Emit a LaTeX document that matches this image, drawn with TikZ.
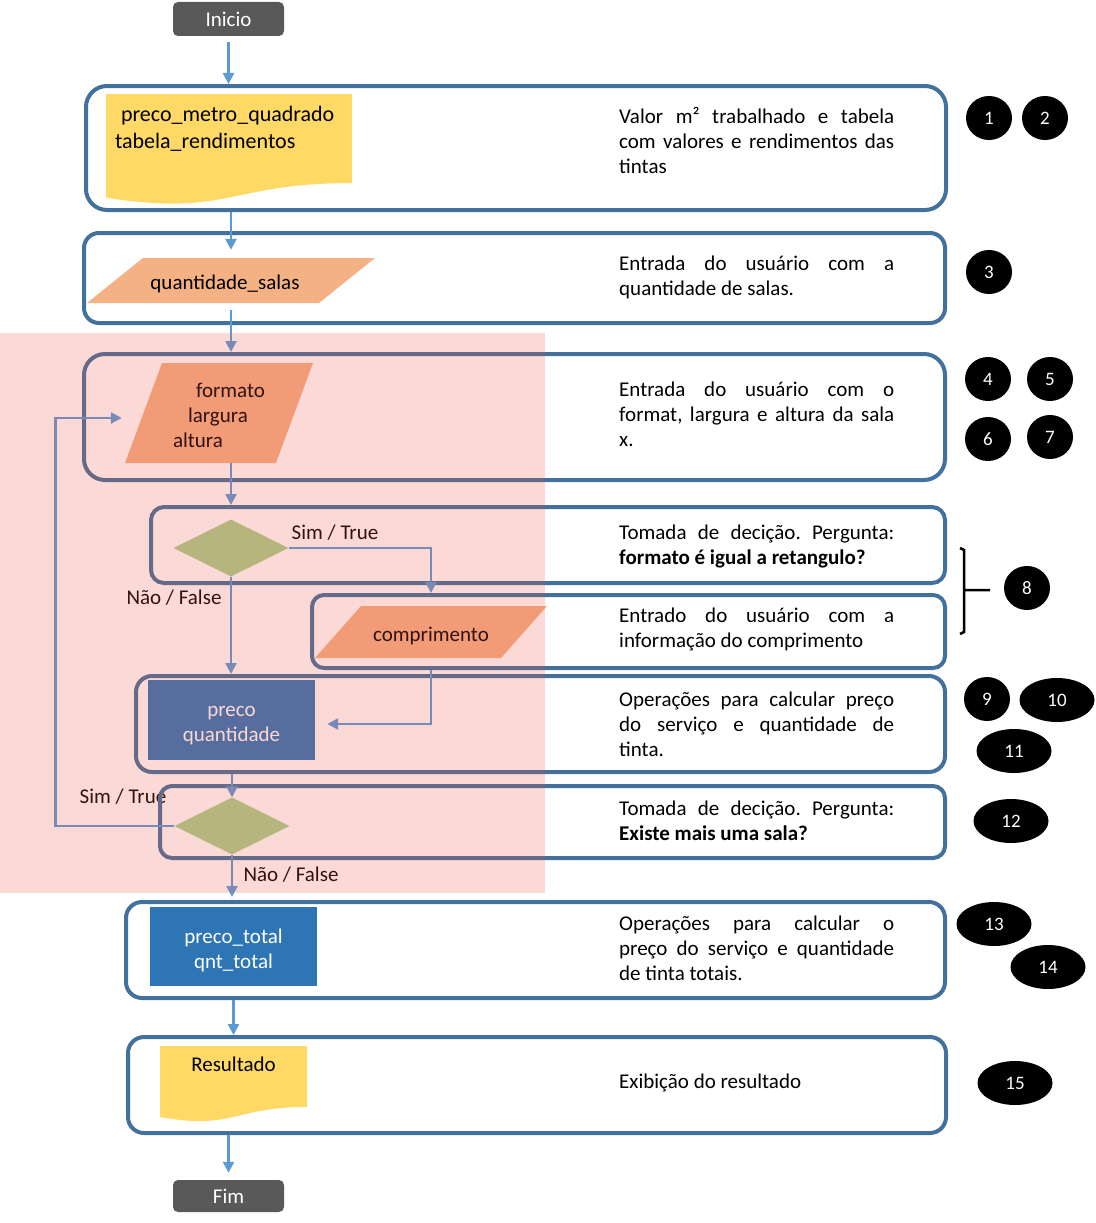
\documentclass[tikz,border=0pt]{standalone}
\usepackage{fontspec}
\setmainfont{Carlito}
\usetikzlibrary{arrows.meta,shapes.geometric,calc}
\frenchspacing

\definecolor{frameblue}{HTML}{41719C}
\definecolor{flowblue}{HTML}{5B9BD5}
\definecolor{termgray}{HTML}{595959}
\definecolor{docyellow}{HTML}{FFD966}
\definecolor{paraorange}{HTML}{F4B183}
\definecolor{decgreen}{HTML}{A9D18E}
\definecolor{boxblue}{HTML}{2E75B6}
\definecolor{looppink}{RGB}{232,82,73}

\begin{document}
\begin{tikzpicture}[x=1pt,y=-1pt,>={Triangle[width=11pt,length=11pt]},
	font=\fontsize{21}{25}\selectfont,
	st/.style={execute at begin node=\rule{0pt}{#1},execute at end node=\strut},
	st/.default=26pt,
	frame/.style={draw=frameblue,line width=4pt,rounded corners=#1,inner sep=0pt},
	term/.style={st=22pt,fill=termgray,text=white,rounded corners=5pt,minimum width=111pt,inner sep=0pt},
	doc/.style={inner sep=0pt,path picture={\fill[docyellow] let \p1=(path picture bounding box.south west),
		\p2=(path picture bounding box.north east), \n1={\y2-\y1} in
		(\x1,\y2) -- (\x2,\y2) -- (\x2,{\y2-0.802*\n1})
		.. controls ({(\x1+\x2)/2},{\y2-0.802*\n1}) and ({(\x1+\x2)/2},{\y2-1.107*\n1}) .. (\x1,{\y2-0.934*\n1}) -- cycle;}},
	para/.style={st,inner sep=0pt,path picture={\fill[paraorange] let \p1=(path picture bounding box.south west),
		\p2=(path picture bounding box.north east) in
		(\x1,\y1) -- ({\x1+#1},\y2) -- (\x2,\y2) -- ({\x2-#1},\y1) -- cycle;}},
	dec/.style={diamond,fill=decgreen,minimum width=115pt,minimum height=57pt,inner sep=0pt},
	proc/.style={fill=boxblue,text=white,align=center,minimum width=167pt,inner sep=0pt},
	flow/.style={->,draw=flowblue,line width=2.5pt},
	desc/.style={st=22pt,anchor=west,text width=275pt,align=justify,inner sep=0pt},
	badge/.style={ellipse,fill=black,text=white,font=\fontsize{19}{23}\selectfont,inner sep=0pt,minimum height=44pt,minimum width=#1},
	badge/.default=46pt]
	\useasboundingbox (0,0) rectangle (1095,1223);

	% labels of the decisions
	\node[st=22pt,inner sep=0pt] (sim1) at (335,532) {Sim / True};
	\node[st=22pt,inner sep=0pt] (nao1) at (174,597) {Não / False};
	\node[st=22pt,inner sep=0pt] (sim2) at (123,796) {Sim / True};
	\node[st=22pt,inner sep=0pt] (nao2) at (291,874) {Não / False};

	% frames
	\node[frame=21pt,minimum width=860pt,minimum height=124pt] (fr1) at (516,148) {};
	\node[frame=15pt,minimum width=861pt,minimum height=90pt] (fr2) at (514.5,278) {};
	\node[frame=21pt,minimum width=861pt,minimum height=126pt] (fr3) at (514.5,417) {};
	\node[frame=13pt,minimum width=794pt,minimum height=76pt] (fr4) at (548,545) {};
	\node[frame=12pt,minimum width=633pt,minimum height=73pt] (fr5) at (628.5,631.5) {};
	\node[frame=16pt,minimum width=809pt,minimum height=96pt] (fr6) at (540.5,724) {};
	\node[frame=12pt,minimum width=785pt,minimum height=72pt] (fr7) at (552.5,822) {};
	\node[frame=16pt,minimum width=819pt,minimum height=96pt] (fr8) at (535.5,950) {};
	\node[frame=16pt,minimum width=818pt,minimum height=96pt] (fr9) at (537,1085) {};

	% flowchart shapes
	\node[term,minimum height=34pt] (ini) at (228.5,19) {Inicio};
	\node[doc,minimum width=246pt,minimum height=111pt,
		label={[inner sep=0pt,anchor=north west,align=left,xshift=9pt,yshift=-12pt,font=\fontsize{22}{27}\selectfont]north west:{\hspace*{6pt}preco\_metro\_quadrado\\tabela\_rendimentos}}] (docA) at (229,149.5) {};
	\node[para=56pt,minimum width=288pt,minimum height=45pt] (salas) at (231,280.5) {\hspace*{-12pt}quantidade\_salas};
	\node[para=37pt,minimum width=188pt,minimum height=100pt,align=left] (medidas) at (219,413)
		{\rule{0pt}{26pt}\hspace*{23pt}formato\\\hspace*{15pt}largura\\altura};
	\node[dec] (dec1) at (231,548) {};
	\node[para=46pt,minimum width=232pt,minimum height=52pt] (comp) at (431,632) {comprimento};
	\node[proc,minimum height=80pt] (calc) at (231.5,720) {\rule{0pt}{22pt}preco\\quantidade};
	\node[dec] (dec2) at (232,826) {};
	\node[proc,minimum height=79pt] (total) at (233.5,946.5) {\rule{0pt}{22pt}preco\_total\\qnt\_total};
	\node[doc,minimum width=147pt,minimum height=76pt,
		label={[inner sep=0pt,anchor=north,yshift=-11pt]north:Resultado}] (docB) at (233.5,1084) {};
	\node[term,minimum height=32pt] (fim) at (228.5,1196) {Fim};

	% connectors
	\draw[flow,shorten <=6pt] (ini) -- (ini |- fr1.north);
	\draw[flow,shorten >=8pt] (salas |- fr1.south) -- (salas);
	\draw[flow,shorten <=7pt] (salas) -- (salas |- fr3.north);
	\draw[flow] (dec1 |- medidas.south) -- (dec1 |- fr4.north);
	\draw[flow] (dec1.east) -| (comp |- fr5.north);
	\draw[flow] (dec1) -- (dec1 |- fr6.north);
	\draw[flow,shorten >=12pt] (comp |- fr5.south) |- ([yshift=-4pt]calc.east);
	\draw[flow] (dec2 |- fr6.south) -- (dec2);
	\draw[flow,shorten >=3pt] (dec2.west) -- ++(-119,0) |- ([yshift=-5pt]medidas.west);
	\draw[flow,shorten >=3pt] (dec2) -- (dec2 |- fr8.north);
	\draw[flow] (total |- fr8.south) -- (total |- fr9.north);
	\draw[flow,shorten >=7pt] (fim |- fr9.south) -- (fim);

	% repeated part
	\fill[looppink,fill opacity=0.22] (0,333) rectangle (545,893);

	% descriptions
	\node[desc] (d1) at (619,141) {Valor m² trabalhado e tabela\linebreak com valores e rendimentos das\linebreak tintas};
	\node[desc] (d2) at (619,275.5) {Entrada do usuário com a\linebreak quantidade de salas.};
	\node[desc] (d3) at (619,414) {Entrada do usuário com o\linebreak format, largura e altura da sala\linebreak x.};
	\node[desc] (d4) at (619,544.5) {Tomada de decição. Pergunta:\linebreak \textbf{formato é igual a retangulo?}};
	\node[desc] (d5) at (619,627.5) {Entrado do usuário com a\linebreak informação do comprimento};
	\node[desc] (d6) at (619,724) {Operações para calcular preço\linebreak do serviço e quantidade de\linebreak tinta.};
	\node[desc] (d7) at (619,820.5) {Tomada de decição. Pergunta:\linebreak \textbf{Existe mais uma sala?}};
	\node[desc] (d8) at (619,948.5) {Operações para calcular o\linebreak preço do serviço e quantidade\linebreak de tinta totais.};
	\node[desc] (d9) at (619,1081) {Exibição do resultado};

	% step numbers
	\node[badge] (n1) at (989,118) {1};
	\node[badge] (n2) at (1045,118) {2};
	\node[badge] (n3) at (989,272) {3};
	\node[badge] (n4) at (988,379) {4};
	\node[badge] (n5) at (1050,379) {5};
	\node[badge] (n6) at (988,439) {6};
	\node[badge] (n7) at (1050,437) {7};
	\node[badge] (n8) at (1027,588) {8};
	\node[badge] (n9) at (987,699) {9};
	\node[badge=75pt] (n10) at (1057,700) {10};
	\node[badge=75pt] (n11) at (1014,751) {11};
	\node[badge=75pt] (n12) at (1011,821) {12};
	\node[badge=75pt] (n13) at (994,924) {13};
	\node[badge=75pt] (n14) at (1048,967) {14};
	\node[badge=75pt] (n15) at (1015,1083) {15};
	\draw[line width=2.5pt] (960,548) -- (964,550) -- (964,632) -- (960,634) (964,590) -- (990,590);
\end{tikzpicture}
\end{document}
